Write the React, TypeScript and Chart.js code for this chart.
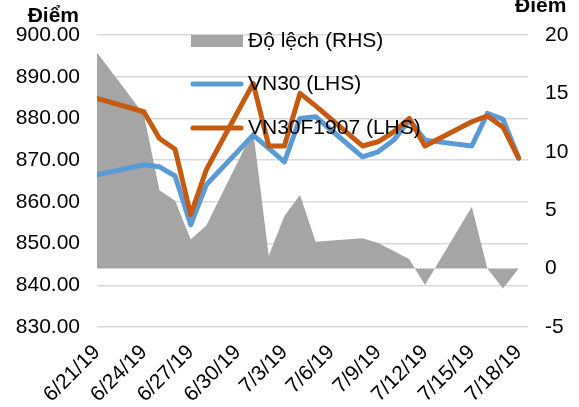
import React, { useEffect, useRef } from 'react';
import { Chart, registerables } from 'chart.js';

Chart.register(...registerables);

// Trading days shown in the chart
const tradingDates = [
  '2019-06-21',
  '2019-06-24', '2019-06-25', '2019-06-26', '2019-06-27', '2019-06-28',
  '2019-07-01', '2019-07-02', '2019-07-03', '2019-07-04', '2019-07-05',
  '2019-07-08', '2019-07-09', '2019-07-10', '2019-07-11', '2019-07-12',
  '2019-07-15', '2019-07-16', '2019-07-17', '2019-07-18',
];

// VN30 (LHS)
const vn30 = [
  866.5,
  868.9, 868.4, 866.2, 854.5, 864.1,
  876.0, 872.8, 869.6, 880.0, 880.4,
  870.8, 872.0, 874.8, 879.6, 874.8,
  873.4, 881.2, 879.8, 870.5,
];

// VN30F1907 (LHS)
const vn30f1907 = [
  884.8,
  881.6, 875.2, 872.6, 856.9, 867.7,
  888.4, 873.4, 873.4, 886.0, 883.0,
  873.4, 874.4, 876.8, 880.0, 873.4,
  879.2, 880.6, 877.9, 870.5,
];

// Độ lệch (RHS)
const basis = [
  18.5,
  13.2, 6.7, 5.8, 2.5, 3.7,
  11.8, 1.1, 4.5, 6.3, 2.3,
  2.6, 2.2, 1.5, 0.8, -1.4,
  5.3, 0.0, -1.7, 0.0,
];

// X-axis tick dates (every 3 days)
const tickDates = [
  '2019-06-21', '2019-06-24', '2019-06-27', '2019-06-30', '2019-07-03',
  '2019-07-06', '2019-07-09', '2019-07-12', '2019-07-15', '2019-07-18',
];

const seriesLabels = ['Độ lệch (RHS)', 'VN30 (LHS)', 'VN30F1907 (LHS)'];
const leftTicks = { min: 830, max: 900, step: 10 };
const rightTicks = { min: -5, max: 20, step: 5 };

const START = Date.UTC(2019, 5, 21);
const DAY = 86400000;
function dayOffset(s: string): number {
  const [y, m, d] = s.split('-').map(Number);
  return (Date.UTC(y, m - 1, d) - START) / DAY;
}
function fmtDay(v: number): string {
  const dt = new Date(START + v * DAY);
  return `${dt.getUTCMonth() + 1}/${dt.getUTCDate()}/${String(dt.getUTCFullYear()).slice(2)}`;
}

const FONT = "'Liberation Sans', Arial, sans-serif";
const FS = 21;
const GRAY = '#A5A5A5';
const BLUE = '#5B9BD5';
const ORANGE = '#C55A11';

export default function App() {
  const ref = useRef<HTMLCanvasElement | null>(null);

  useEffect(() => {
    const canvas = ref.current;
    if (!canvas) return;
    const xs = tradingDates.map(dayOffset);
    const tickDays = tickDates.map(dayOffset);

    const legendPlugin = {
      id: 'customLegend',
      afterDatasetsDraw(chart: any) {
        const ctx = chart.ctx;
        ctx.save();
        const rows = [41, 84, 128];
        const x0 = 191, x1 = 243, tx = 248;
        ctx.font = `${FS}px ${FONT}`;
        ctx.textBaseline = 'middle';
        ctx.textAlign = 'left';
        chart.data.datasets.forEach((ds: any, i: number) => {
          const y = rows[i];
          if (i === 0) {
            ctx.fillStyle = ds.backgroundColor;
            ctx.fillRect(x0, y - 6, x1 - x0, 12);
          } else {
            ctx.strokeStyle = ds.borderColor;
            ctx.lineWidth = 5;
            ctx.lineCap = 'round';
            ctx.beginPath();
            ctx.moveTo(x0 + 2, y);
            ctx.lineTo(x1 - 2, y);
            ctx.stroke();
          }
          ctx.fillStyle = '#000';
          ctx.fillText(ds.label, tx, y);
        });
        // axis unit labels
        ctx.font = `bold ${FS}px ${FONT}`;
        ctx.textBaseline = 'alphabetic';
        ctx.textAlign = 'right';
        ctx.fillText('Điểm', 79, 22);
        ctx.textAlign = 'left';
        ctx.fillText('Điểm', 515, 12);
        ctx.restore();
      },
    };

    const chart = new Chart(canvas, {
      type: 'line',
      data: {
        datasets: [
          {
            label: seriesLabels[0],
            data: xs.map((x, i) => ({ x, y: basis[i] })),
            yAxisID: 'y1',
            backgroundColor: GRAY,
            borderColor: GRAY,
            borderWidth: 0,
            pointRadius: 0,
            fill: 'origin',
            tension: 0,
            order: 3,
          },
          {
            label: seriesLabels[1],
            data: xs.map((x, i) => ({ x, y: vn30[i] })),
            yAxisID: 'y',
            borderColor: BLUE,
            backgroundColor: BLUE,
            borderWidth: 5,
            pointRadius: 0,
            fill: false,
            tension: 0,
            borderJoinStyle: 'round',
            borderCapStyle: 'round',
            order: 2,
          },
          {
            label: seriesLabels[2],
            data: xs.map((x, i) => ({ x, y: vn30f1907[i] })),
            yAxisID: 'y',
            borderColor: ORANGE,
            backgroundColor: ORANGE,
            borderWidth: 5,
            pointRadius: 0,
            fill: false,
            tension: 0,
            borderJoinStyle: 'round',
            borderCapStyle: 'round',
            order: 1,
          },
        ],
      },
      options: {
        responsive: false,
        animation: false,
        events: [],
        layout: { padding: { top: 35, left: 0, right: 0, bottom: 0 } },
        plugins: { legend: { display: false }, tooltip: { enabled: false }, title: { display: false } },
        scales: {
          x: {
            type: 'linear',
            min: 0,
            max: 27.6,
            grid: { display: false, drawTicks: false },
            border: { display: false },
            afterBuildTicks: (scale: any) => {
              scale.ticks = tickDays.map((v) => ({ value: v }));
            },
            afterFit: (scale: any) => {
              scale.height = 80;
            },
            ticks: {
              autoSkip: false,
              minRotation: 45,
              maxRotation: 45,
              padding: 13,
              color: '#000',
              font: { family: FONT, size: FS },
              callback: (v: any) => fmtDay(Number(v)),
            },
          },
          y: {
            position: 'left',
            min: leftTicks.min,
            max: leftTicks.max,
            grid: { color: '#D9D9D9', lineWidth: 1.5, drawTicks: false },
            border: { display: false },
            afterFit: (scale: any) => {
              scale.width = 97;
            },
            ticks: {
              stepSize: leftTicks.step,
              padding: 17,
              color: '#000',
              font: { family: FONT, size: FS },
              callback: (v: any) => Number(v).toFixed(2),
            },
          },
          y1: {
            position: 'right',
            min: rightTicks.min,
            max: rightTicks.max,
            grid: { display: false, drawTicks: false },
            border: { display: false },
            afterFit: (scale: any) => {
              scale.width = 51;
            },
            ticks: {
              stepSize: rightTicks.step,
              padding: 17,
              color: '#000',
              font: { family: FONT, size: FS },
            },
          },
        },
      },
      plugins: [legendPlugin],
    } as any);

    return () => chart.destroy();
  }, []);

  return (
    <div style={{ position: 'fixed', left: 0, top: 0, width: 579, height: 407, background: '#fff' }}>
      <canvas ref={ref} width={579} height={407} style={{ display: 'block', width: 579, height: 407 }} />
    </div>
  );
}
